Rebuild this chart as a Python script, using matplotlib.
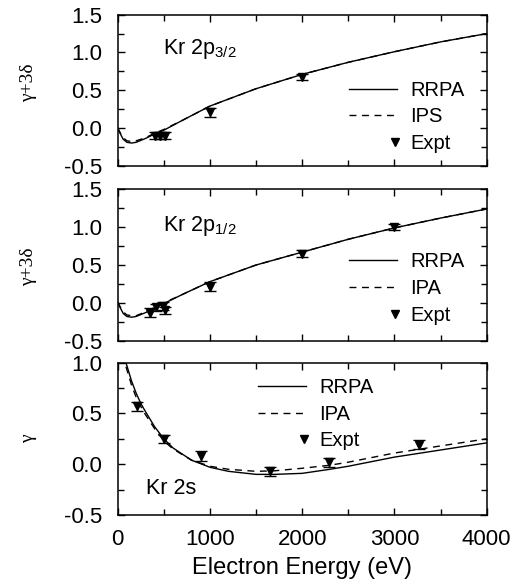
import matplotlib
matplotlib.use('Agg')
import matplotlib.pyplot as plt
from matplotlib.ticker import MultipleLocator
from matplotlib.legend_handler import HandlerLine2D

plt.rcParams['font.family'] = ['Liberation Sans', 'DejaVu Sans']
plt.rcParams['mathtext.fontset'] = 'custom'
plt.rcParams['mathtext.rm'] = 'Liberation Sans'

# Kr 2p3/2 panel
e_p32 = [0, 30, 60, 100, 150, 200, 300, 400, 500, 700, 1000, 1500, 2000, 2500, 3000, 3500, 4000]
rrpa_p32 = [0.0, -0.08, -0.15, -0.19, -0.20, -0.19, -0.14, -0.08, -0.03, 0.10, 0.29, 0.52, 0.71, 0.87, 1.01, 1.14, 1.25]
ips_p32 = [0.0, -0.07, -0.13, -0.17, -0.18, -0.17, -0.13, -0.07, -0.02, 0.10, 0.29, 0.52, 0.71, 0.87, 1.01, 1.14, 1.25]
expt_e_p32 = [400, 455, 510, 1000, 2000]
expt_p32 = [-0.10, -0.10, -0.10, 0.21, 0.68]
err_p32 = [0.05, 0.05, 0.05, 0.06, 0.04]

# Kr 2p1/2 panel
e_p12 = [0, 30, 60, 100, 150, 200, 300, 400, 500, 700, 1000, 1500, 2000, 2500, 3000, 3500, 4000]
rrpa_p12 = [0.01, -0.07, -0.14, -0.18, -0.19, -0.18, -0.13, -0.07, -0.01, 0.11, 0.28, 0.50, 0.67, 0.84, 0.99, 1.12, 1.24]
ipa_p12 = [0.01, -0.06, -0.12, -0.16, -0.17, -0.17, -0.12, -0.06, 0.0, 0.11, 0.28, 0.50, 0.67, 0.84, 0.99, 1.12, 1.24]
expt_e_p12 = [345, 420, 495, 510, 1000, 2000, 3000]
expt_p12 = [-0.13, -0.06, -0.04, -0.10, 0.21, 0.65, 1.00]
err_p12 = [0.06, 0.05, 0.05, 0.05, 0.06, 0.05, 0.04]

# Kr 2s panel
e_2s = [90, 150, 200, 250, 300, 400, 500, 600, 800, 1000, 1200, 1500, 1700, 2000, 2300, 2500, 3000, 3500, 4000]
rrpa_2s = [1.0, 0.82, 0.70, 0.60, 0.52, 0.37, 0.25, 0.16, 0.04, -0.03, -0.07, -0.10, -0.10, -0.09, -0.05, -0.02, 0.07, 0.14, 0.21]
ipa_2s = [0.96, 0.78, 0.66, 0.57, 0.49, 0.35, 0.23, 0.15, 0.04, -0.02, -0.05, -0.07, -0.065, -0.04, -0.01, 0.02, 0.11, 0.18, 0.25]
expt_e_2s = [205, 505, 905, 1650, 2295, 3270]
expt_2s = [0.57, 0.25, 0.08, -0.07, 0.02, 0.19]
err_2s = [0.045, 0.04, 0.05, 0.045, 0.045, 0.045]


class RightMarker(HandlerLine2D):
    # put the single legend marker at the right end of the handle
    def get_xdata(self, legend, xdescent, ydescent, width, height, fontsize):
        x = -xdescent + width - 0.12 * fontsize
        return [x, x], [x]


fig = plt.figure(figsize=(5.13, 5.80), dpi=100)
left, width = 0.2294, 0.7193
ax1 = fig.add_axes([left, 0.7143, width, 0.2603])
ax2 = fig.add_axes([left, 0.4126, width, 0.2610])
ax3 = fig.add_axes([left, 0.1121, width, 0.2626])


def style(ax, ymin, ymax):
    ax.set_xlim(0, 4000)
    ax.set_ylim(ymin, ymax)
    ax.xaxis.set_major_locator(MultipleLocator(1000))
    ax.xaxis.set_minor_locator(MultipleLocator(500))
    ax.yaxis.set_major_locator(MultipleLocator(0.5))
    ax.yaxis.set_minor_locator(MultipleLocator(0.25))
    ax.tick_params(which='both', direction='in', top=True, right=True, width=1.0, labelsize=16)
    ax.tick_params(which='major', length=5)
    ax.tick_params(which='minor', length=4)
    ax.tick_params(axis='y', pad=11)
    ax.tick_params(axis='x', pad=10)
    ax.yaxis.set_major_formatter(plt.FuncFormatter(lambda v, p: '%.1f' % v))
    for s in ax.spines.values():
        s.set_linewidth(1.1)


def draw(ax, e, rrpa, other, other_name, xe, ye, err, anchor):
    l1, = ax.plot(e, rrpa, color='black', lw=1)
    l2, = ax.plot(e, other, color='black', lw=1, ls=(0, (5, 4)))
    eb = ax.errorbar(xe, ye, yerr=err, fmt='v', color='black', markersize=6,
                     capsize=4.5, elinewidth=1, capthick=1)
    ax.legend([l1, l2, eb[0]], ['RRPA', other_name, 'Expt'],
              handler_map={eb[0]: RightMarker(numpoints=1)},
              frameon=False, fontsize=14.5, handlelength=2.4, handletextpad=0.65,
              borderpad=0, borderaxespad=0, labelspacing=0.38, loc='upper left',
              bbox_to_anchor=anchor)


ylab_kw = dict(fontsize=14, family='Liberation Serif')

style(ax1, -0.5, 1.5)
draw(ax1, e_p32, rrpa_p32, ips_p32, 'IPS', expt_e_p32, expt_p32, err_p32, (0.627, 0.563))
ax1.tick_params(labelbottom=False)
ax1.text(0.122, 0.77, 'Kr 2p$_{\\mathregular{3/2}}$', transform=ax1.transAxes, fontsize=15.5, va='center')
ax1.set_ylabel('γ+3δ', **ylab_kw)
ax1.yaxis.set_label_coords(-0.218, 0.55)

style(ax2, -0.5, 1.5)
draw(ax2, e_p12, rrpa_p12, ipa_p12, 'IPA', expt_e_p12, expt_p12, err_p12, (0.627, 0.583))
ax2.tick_params(labelbottom=False)
ax2.text(0.122, 0.756, 'Kr 2p$_{\\mathregular{1/2}}$', transform=ax2.transAxes, fontsize=15.5, va='center')
ax2.set_ylabel('γ+3δ', **ylab_kw)
ax2.yaxis.set_label_coords(-0.218, 0.49)

style(ax3, -0.5, 1.0)
draw(ax3, e_2s, rrpa_2s, ipa_2s, 'IPA', expt_e_2s, expt_2s, err_2s, (0.38, 0.90))
ax3.text(0.076, 0.177, 'Kr 2s', transform=ax3.transAxes, fontsize=15.5, va='center')
ax3.set_ylabel('γ', **ylab_kw)
ax3.yaxis.set_label_coords(-0.218, 0.5)
ax3.set_xlabel('Electron Energy (eV)', fontsize=17, labelpad=5)

fig.savefig('out.png', dpi=100)
